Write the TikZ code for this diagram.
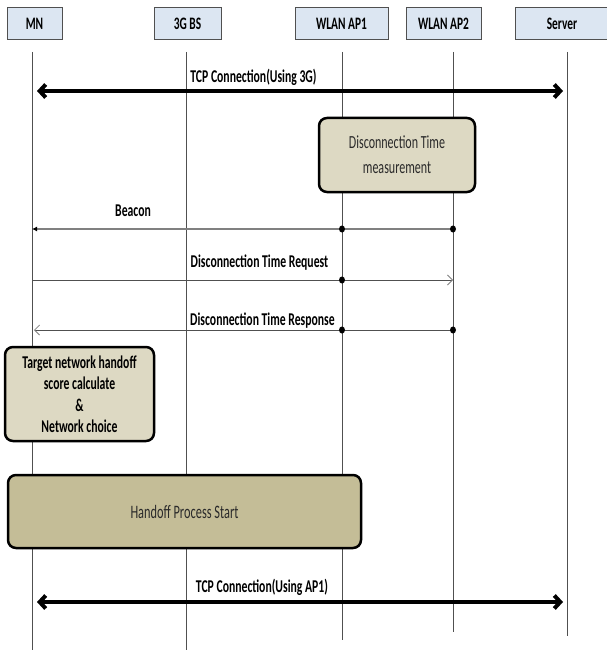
\documentclass[tikz,border=0pt]{standalone}
\usepackage{fontspec}
\setmainfont{Carlito}[FakeStretch=0.65]
\usetikzlibrary{arrows.meta,shapes.geometric}
\definecolor{hdrfill}{HTML}{DCE6F2}
\definecolor{measfill}{HTML}{DDD9C3}
\definecolor{hofill}{HTML}{C4BD97}
\definecolor{lifeclr}{HTML}{505050}
\definecolor{txtgray}{HTML}{2A2A2A}
\begin{document}
\begin{tikzpicture}[x=1pt,y=-1pt,
  hdr/.style={draw=lifeclr, line width=1pt, fill=hdrfill, minimum height=32pt, inner sep=0pt, font=\fontsize{17.5}{20}\selectfont\bfseries},
  life/.style={draw=lifeclr, line width=0.8pt},
  procbox/.style={draw=black, line width=2.5pt, rounded corners=8pt, inner sep=0pt, align=center},
  tcp/.style={line width=4pt, {Straight Barb[length=6pt,width=13pt]}-{Straight Barb[length=6pt,width=13pt]}},
  lbl/.style={font=\fontsize{18}{21}\selectfont\bfseries, inner sep=0pt},
  msg/.style={line width=1pt, draw=lifeclr},
  dot/.style={fill=black, draw=none, ellipse, minimum width=6pt, minimum height=7pt, inner sep=0pt}
]
\useasboundingbox (0,0) rectangle (607,650);
% header boxes
\node[hdr, minimum width=55pt] (mn) at (34.5,24) {MN};
\node[hdr, minimum width=67pt] (bs) at (187.5,24) {3G BS};
\node[hdr, minimum width=93pt] (ap1) at (341.5,24) {WLAN AP1};
\node[hdr, minimum width=75pt] (ap2) at (443.5,24) {WLAN AP2};
\node[hdr, minimum width=94pt] (srv) at (562,24) {Server};
% lifelines
\coordinate (mnT) at (32,52);  \coordinate (mnB) at (32,650);
\coordinate (bsT) at (186,52); \coordinate (bsB) at (186,650);
\coordinate (a1T) at (342,52); \coordinate (a1B) at (342,640);
\coordinate (a2T) at (453,52); \coordinate (a2B) at (453,632);
\coordinate (svT) at (567,52); \coordinate (svB) at (567,636);
\draw[life] (mnT) -- (mnB);
\draw[life] (bsT) -- (bsB);
\draw[life] (a1T) -- (a1B);
\draw[life] (a2T) -- (a2B);
\draw[life] (svT) -- (svB);
% TCP 3G
\coordinate (t1L) at (37,91); \coordinate (t1R) at (563,91);
\draw[tcp] (t1L) -- (t1R);
\node[lbl] (t1lbl) at (253.5,77) {TCP Connection(Using 3G)};
% measurement box
\node[procbox, fill=measfill, minimum width=156pt, minimum height=74pt, text=txtgray, font=\fontsize{18.5}{25}\selectfont] (meas) at (397,155) {Disconnection Time\\measurement};
% Beacon
\coordinate (bcA2) at (453,229); \coordinate (bcA1) at (342,229); \coordinate (bcMN) at (32,229);
\draw[line width=1.4pt, draw=gray, -{Latex[length=5pt,width=5pt,color=black]}] (bcA2) -- (bcMN);
\node[dot] (bd1) at (bcA1) {};
\node[dot] (bd2) at (bcA2) {};
\node[lbl] (bclbl) at (133,211) {Beacon};
% Request
\coordinate (rqMN) at (32,280); \coordinate (rqA1) at (342,280); \coordinate (rqA2) at (453,280);
\draw[msg, -{Straight Barb[length=5pt,width=10pt,line width=0.8pt,color=gray]}] (rqMN) -- (rqA2);
\node[dot] (rd1) at (rqA1) {};
\node[lbl] (rqlbl) at (259.5,263) {Disconnection Time Request};
% Response
\coordinate (rsA2) at (453,330); \coordinate (rsA1) at (342,330); \coordinate (rsMN) at (34,330);
\draw[msg, -{Straight Barb[length=5pt,width=10pt,line width=0.8pt,color=gray]}] (rsA2) -- (rsMN);
\node[dot] (sd1) at (rsA1) {};
\node[dot] (sd2) at (rsA2) {};
\node[lbl] (rslbl) at (262.5,321) {Disconnection Time Response};
% Target box
\node[procbox, fill=measfill, minimum width=149pt, minimum height=94pt, font=\fontsize{18}{21.5}\selectfont\bfseries] (tgt) at (79.5,394) {Target network handoff\\score calculate\\\&\\Network choice};
% Handoff
\node[procbox, fill=hofill, minimum width=353pt, minimum height=73pt, text=txtgray, font=\fontsize{19}{22}\selectfont] (ho) at (184.5,511.5) {Handoff Process Start};
% TCP AP1
\coordinate (t2L) at (37,602); \coordinate (t2R) at (563,602);
\draw[tcp] (t2L) -- (t2R);
\node[lbl] (t2lbl) at (262,587) {TCP Connection(Using AP1)};
\end{tikzpicture}
\end{document}
